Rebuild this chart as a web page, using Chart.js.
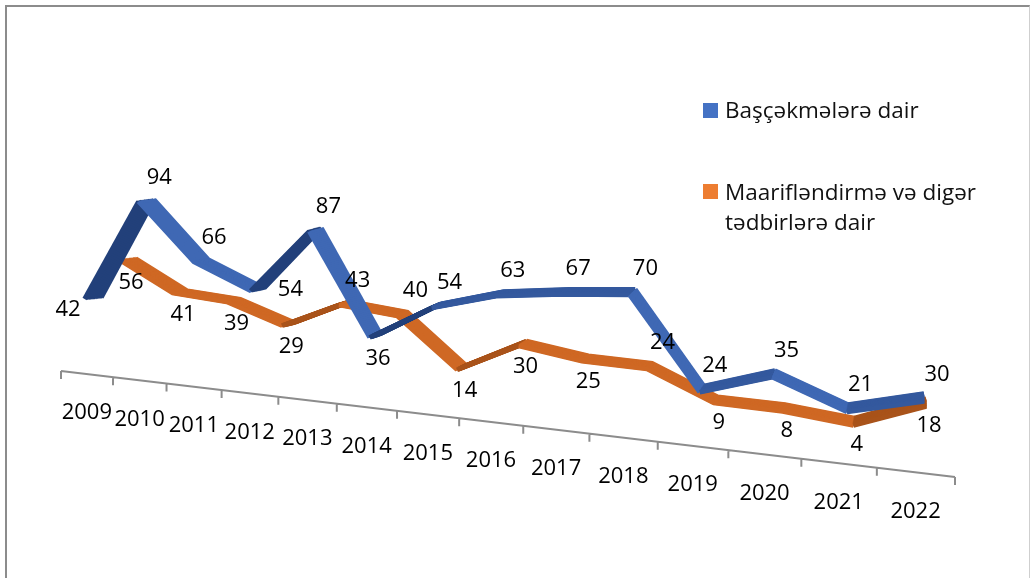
<!DOCTYPE html>
<html>
<head>
<meta charset="utf-8">
<script src="https://cdn.jsdelivr.net/npm/chart.js@4.4.1/dist/chart.umd.min.js"></script>
<style>
  html, body { margin: 0; padding: 0; background: #fff; }
  body { width: 1030px; height: 578px; position: relative; overflow: hidden; font-family: 'Open Sans', sans-serif; }
  #frame { position: absolute; left: 5px; top: 5px; right: 0; bottom: -10px; border-left: 2px solid #8c8c8c; border-top: 2px solid #8c8c8c; border-right: 1px solid #cfcfcf; }
  #chart { position: absolute; left: 0; top: 0; }
  .swatch { position: absolute; left: 703px; width: 15px; height: 15px; }
  .legend-text { position: absolute; left: 725px; font-size: 22.5px; line-height: 30px; color: #111; white-space: nowrap; }
</style>
</head>
<body>
<div id="frame"></div>
<canvas id="chart" width="1030" height="578"></canvas>
<div class="swatch" style="top:103px;background:#4472c4"></div>
<div class="legend-text" style="top:95px">Başçəkmələrə dair</div>
<div class="swatch" style="top:184px;background:#ed7d31"></div>
<div class="legend-text" style="top:177px">Maarifləndirmə və digər<br>tədbirlərə dair</div>

<script>
// Chart data
const years = ['2009', '2010', '2011', '2012', '2013', '2014', '2015', '2016', '2017', '2018', '2019', '2020', '2021', '2022'];
const bascekmeValues = [42, 94, 66, 54, 87, 36, 54, 63, 67, 70, 24, 35, 21, 30];
const maarifValues = [56, 41, 39, 29, 43, 40, 14, 30, 25, 24, 9, 8, 4, 18];

// where each value label sits relative to its point
const bascekmeLabelSide = ['left', 'top', 'top', 'right', 'top', 'bottom', 'top', 'top', 'top', 'top', 'top', 'top', 'top', 'top'];
const maarifLabelSide = ['bottom', 'bottom', 'bottom', 'bottom', 'top', 'top', 'bottom', 'bottom', 'bottom', 'top', 'bottom', 'bottom', 'bottom', 'bottom'];

// 3D look: the floor tilts down to the right, ribbons have depth
const SHEAR = 0.091;
const ORIGIN_X = 61;
const FLOOR_Y = 371;
const FLOOR_SLOPE = 0.1186;
const SIDE_OFFSETS = { top: [13, -23], bottom: [3, 23], right: [33, 0], left: [-25, 12] };

// linear scale with a simple perspective squeeze (far left is narrower)
class PerspectiveScale extends Chart.LinearScale {
  getPixelForValue(value) {
    if (value === null || value === undefined) return NaN;
    const t = (value - this.min) / (this.max - this.min);
    const k = this.options.depth || 0;
    return this.left + this.width * t * (1 - k) / (1 - k * t);
  }
  getValueForPixel(pixel) {
    const u = (pixel - this.left) / this.width;
    const k = this.options.depth || 0;
    const t = u / (1 - k + k * u);
    return this.min + t * (this.max - this.min);
  }
}
PerspectiveScale.id = 'perspective';
PerspectiveScale.defaults = {};
Chart.register(PerspectiveScale);

function toScreen(x, y) {
  return [x, y + SHEAR * (x - ORIGIN_X)];
}

// draw each line as a swept ribbon
const ribbonPlugin = {
  id: 'ribbon3d',
  beforeDatasetDraw(chart, args) {
    const ctx = chart.ctx;
    const meta = args.meta;
    const line = meta.dataset;
    const steps = 12;
    for (let j = 0; j <= steps; j++) {
      const f = 0.5 - j / steps;
      ctx.save();
      ctx.transform(1 - 0.0204 * f, -0.00763 * f, 0, 1, 18.8 * f, -0.96 * f);
      ctx.transform(1, SHEAR, 0, 1, 0, -SHEAR * ORIGIN_X);
      line.draw(ctx, chart.chartArea, 0, meta.data.length);
      ctx.restore();
    }
    return false;
  }
};

// sloped category axis on the floor
const floorAxisPlugin = {
  id: 'floorAxis',
  beforeDatasetsDraw(chart) {
    const sc = chart.scales.x;
    const ctx = chart.ctx;
    const yAt = px => FLOOR_Y + FLOOR_SLOPE * (px - sc.left);
    ctx.save();
    ctx.strokeStyle = '#8c8c8c';
    ctx.lineWidth = 2;
    ctx.beginPath();
    const x0 = sc.getPixelForValue(sc.min);
    const x1 = sc.getPixelForValue(sc.max);
    ctx.moveTo(x0, yAt(x0));
    ctx.lineTo(x1, yAt(x1));
    for (let i = 0; i <= years.length; i++) {
      const px = sc.getPixelForValue(sc.min + i);
      ctx.moveTo(px, yAt(px));
      ctx.lineTo(px, yAt(px) + 8);
    }
    ctx.stroke();
    ctx.fillStyle = '#000';
    ctx.font = '22px "Open Sans"';
    ctx.textAlign = 'center';
    ctx.textBaseline = 'middle';
    years.forEach(y => {
      const px = sc.getPixelForValue(+y);
      ctx.fillText(y, px, yAt(px) + 39);
    });
    ctx.restore();
  }
};

// value labels next to the points
const valueLabelPlugin = {
  id: 'valueLabels',
  afterDatasetsDraw(chart) {
    const ctx = chart.ctx;
    ctx.save();
    ctx.fillStyle = '#000';
    ctx.font = '22px "Open Sans"';
    ctx.textAlign = 'center';
    ctx.textBaseline = 'middle';
    chart.data.datasets.forEach((ds, di) => {
      const meta = chart.getDatasetMeta(di);
      meta.data.forEach((pt, i) => {
        const [sx, sy] = toScreen(pt.x, pt.y);
        const off = SIDE_OFFSETS[ds.labelSide[i]];
        ctx.fillText(String(ds.data[i]), sx + off[0], sy + off[1]);
      });
    });
    ctx.restore();
  }
};

// rising ribbons face away from the light: steep rise dark, small rise mid
const shade = (c, colors) => {
  const rise = c.p1.parsed.y - c.p0.parsed.y;
  if (rise > 12) return colors[0];
  if (rise > 0) return colors[1];
  return colors[2];
};

Chart.defaults.font.family = "'Open Sans', sans-serif";

new Chart(document.getElementById('chart'), {
  type: 'line',
  data: {
    labels: years,
    datasets: [
      {
        label: 'Başçəkmələrə dair',
        data: bascekmeValues,
        labelSide: bascekmeLabelSide,
        xAxisID: 'xb',
        yAxisID: 'yb',
        borderColor: '#3f68b4',
        borderWidth: 4.5,
        borderJoinStyle: 'miter',
        pointRadius: 0,
        tension: 0,
        clip: false,
        segment: { borderColor: c => shade(c, ['#22407a', '#34599e', '#3f68b4']) }
      },
      {
        label: 'Maarifləndirmə və digər tədbirlərə dair',
        data: maarifValues,
        labelSide: maarifLabelSide,
        xAxisID: 'xo',
        yAxisID: 'yo',
        borderColor: '#cf6824',
        borderWidth: 4.5,
        borderJoinStyle: 'miter',
        pointRadius: 0,
        tension: 0,
        clip: false,
        segment: { borderColor: c => shade(c, ['#a9531a', '#bd5e1f', '#cf6824']) }
      }
    ]
  },
  options: {
    responsive: false,
    animation: false,
    layout: { padding: { left: 61, right: 75, top: 100, bottom: 178 } },
    plugins: { legend: { display: false }, tooltip: { enabled: false } },
    scales: {
      x: { type: 'perspective', axis: 'x', position: 'bottom', display: false, min: 2008.5, max: 2022.5, depth: 0.197 },
      xb: { type: 'perspective', axis: 'x', position: 'bottom', display: false, min: 2008.386, max: 2022.396, depth: 0.19 },
      xo: { type: 'perspective', axis: 'x', position: 'bottom', display: false, min: 2007.677, max: 2022.393, depth: 0.18 },
      yb: { type: 'linear', axis: 'y', position: 'left', display: false, min: -11.17, max: 141.11 },
      yo: { type: 'linear', axis: 'y', position: 'left', display: false, min: -23.24, max: 138.92 }
    }
  },
  plugins: [floorAxisPlugin, ribbonPlugin, valueLabelPlugin]
});
</script>
</body>
</html>
